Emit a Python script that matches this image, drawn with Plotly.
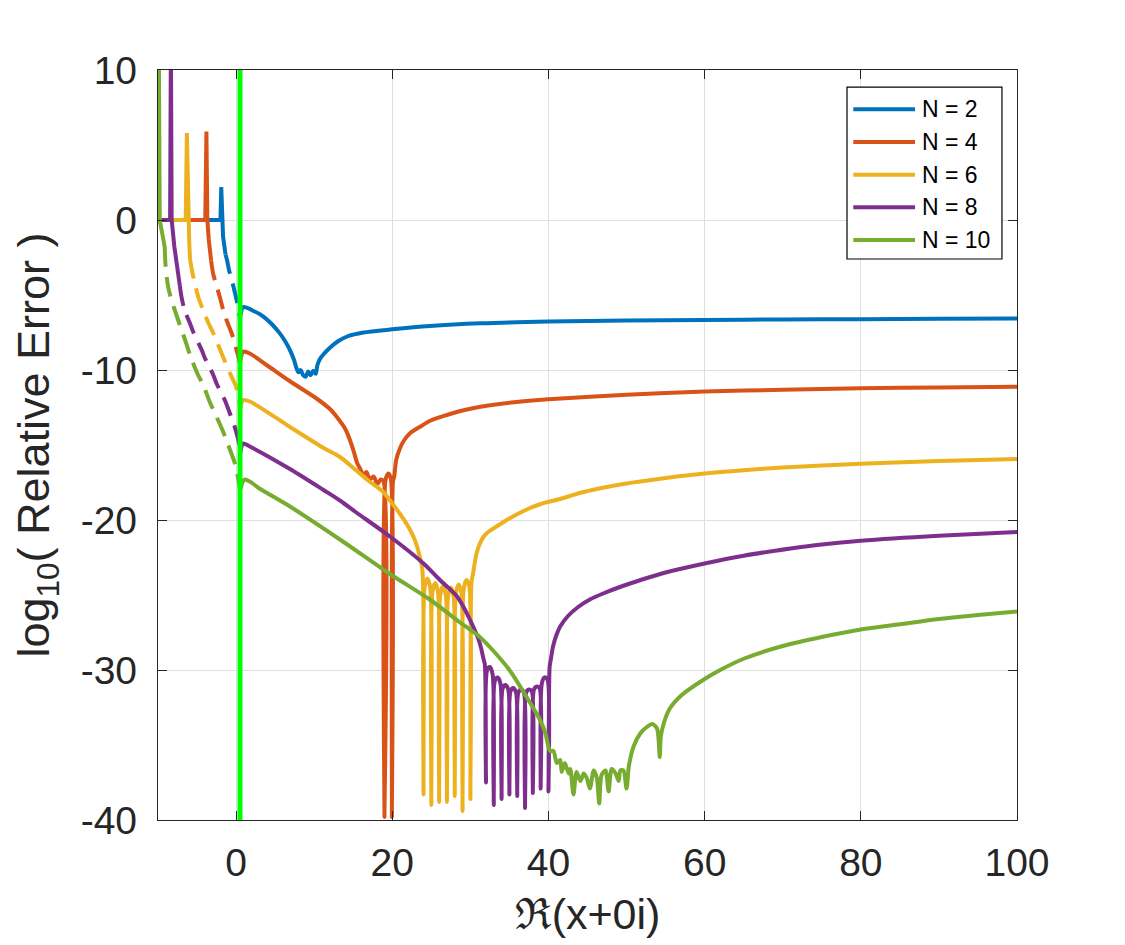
import plotly.graph_objects as go

# ---------------- data ----------------
labels = ["N = 2", "N = 4", "N = 6", "N = 8", "N = 10"]
colors = ["#0072BD", "#D95319", "#EDB120", "#7E2F8E", "#77AC30"]

# N = 2
n2_left_x = [-10, -2.0, -1.9, -1.82, -1.67, -1.35]
n2_left_y = [0, 0, 2.2, 0, -1.1, -2.3]
n2_dash_x = [-1.35, -1.15, -0.9, -0.5, -0.17, 0.05, 0.3, 0.5]
n2_dash_y = [-2.3, -2.7, -3.35, -4.1, -4.8, -5.3, -5.9, -6.6]
n2_right_x = [0.55, 0.7, 0.9, 1.5, 2.0, 3.0, 3.5, 4.5, 5.6, 6.3, 6.9, 7.4, 7.75, 8.0, 8.25,
              8.6, 8.9, 9.24, 9.55, 9.88, 10.2, 10.4, 10.7, 11.2, 12.05, 13.0, 14.3, 16.3,
              20, 24.8, 31.3, 40, 50, 60, 70, 80, 90, 100]
n2_right_y = [-6.4, -6.0, -5.8, -5.88, -6.0, -6.27, -6.44, -6.9, -7.56, -8.1, -8.67, -9.3,
              -9.9, -10.15, -10.0, -10.35, -10.45, -10.1, -10.35, -10.05, -10.25, -9.7, -9.3,
              -8.95, -8.5, -8.1, -7.75, -7.5, -7.29, -7.07, -6.89, -6.77, -6.7, -6.66, -6.63,
              -6.61, -6.58, -6.56]

# N = 4
n4_left_x = [-10, -3.95, -3.8, -3.68, -3.5, -3.2]
n4_left_y = [0, 0, 5.9, 0, -1.3, -2.7]
n4_dash_x = [-3.2, -2.95, -2.5, -2.1, -1.6, -1.23, -0.6, -0.17, 0.05, 0.3, 0.5]
n4_dash_y = [-2.7, -3.55, -4.4, -5.1, -6.1, -6.67, -7.5, -8.2, -8.67, -9.1, -9.6]
n4_right_x = [0.55, 0.7, 0.9, 1.75, 4.0, 6.9, 10.3, 12.05, 13.0, 14.0, 14.6, 15.1, 15.5,
              15.9, 16.3, 16.7, 17.1, 17.6, 18.1, 18.5, 18.85, 19.0, 19.15, 19.5, 19.8,
              19.95, 20.1, 20.25, 20.5, 21.0, 21.5, 22.3, 23.5, 25, 27, 29, 31.3, 35.6, 40,
              50, 60, 70, 80, 90, 100]
n4_right_y = [-9.4, -9.0, -8.78, -8.9, -9.7, -10.75, -11.9, -12.62, -13.2, -13.95, -14.7,
              -15.5, -16.2, -16.6, -17.0, -16.8, -17.3, -17.1, -17.6, -17.3, -17.4, -39.8,
              -17.3, -16.9, -17.2, -39.8, -17.4, -17.1, -16.0, -15.2, -14.7, -14.2, -13.8,
              -13.35, -13.0, -12.7, -12.45, -12.15, -11.95, -11.65, -11.44, -11.32, -11.22,
              -11.16, -11.11]

# N = 6
n6_left_x = [-10, -6.45, -6.3, -6.15, -6.0, -5.9]
n6_left_y = [0, 0, 5.8, 0, -1.5, -2.6]
n6_dash_x = [-5.9, -5.6, -5.2, -4.8, -4.23, -3.6, -2.7, -2.0, -1.45, -0.8, -0.17, 0.05,
             0.3, 0.5]
n6_dash_y = [-2.6, -3.5, -4.4, -5.2, -6.0, -6.8, -7.8, -8.7, -9.4, -10.2, -10.9, -11.2,
             -11.7, -12.4]
n6_right_x = [0.55, 0.7, 0.9, 1.76, 6.9, 11.2, 13.3, 15.4, 17.0, 18.8, 20.0, 21.0, 22.0,
              22.7, 23.2, 23.5, 23.85,
              24.0, 24.15, 24.5, 24.85, 25.0, 25.15, 25.5, 25.85, 26.0, 26.15, 26.5, 26.85,
              27.0, 27.15, 27.5, 27.85, 28.0, 28.15, 28.5, 28.85, 29.0, 29.15, 29.5, 29.85,
              30.0, 30.15, 30.3, 30.8, 31.2, 31.7, 32.4, 33.3, 35.0, 36.8, 38.9, 41.5, 44,
              46.5, 49.6, 55, 60, 65, 70, 75, 80, 90, 100]
n6_right_y = [-12.6, -12.2, -12.0, -12.1, -13.8, -15.2, -15.8, -16.7, -17.4, -18.1, -18.9,
              -19.6, -20.4, -21.1, -21.8, -22.4, -23.3,
              -38.3, -24.5, -23.9, -24.5, -39.0, -24.8, -24.2, -24.8, -38.8, -25.0, -24.4,
              -25.0, -38.8, -25.1, -24.5, -25.1, -38.4, -24.9, -24.3, -24.9, -39.4, -24.6,
              -24.0, -24.4, -38.6, -24.1, -23.7, -22.2, -21.6, -21.1, -20.75, -20.45, -19.9,
              -19.4, -18.95, -18.6, -18.2, -17.9, -17.6, -17.2, -16.9, -16.68, -16.5, -16.37,
              -16.25, -16.07, -15.93]

# N = 8
n8_left_x = [-10, -8.45, -8.35, -8.25, -7.9, -7.5, -7.2]
n8_left_y = [0, 0, 12, 0, -1.8, -3.3, -4.4]
n8_dash_x = [-7.2, -7.0, -6.6, -5.9, -5.5, -4.4, -4.0, -2.95, -2.5, -1.45, -1.0, -0.17,
             0.05, 0.3, 0.5]
n8_dash_y = [-4.4, -5.1, -6.0, -6.9, -7.45, -8.67, -9.2, -10.3, -10.9, -12.0, -12.6,
             -13.8, -14.2, -14.7, -15.3]
n8_right_x = [0.55, 0.7, 0.9, 1.76, 6.9, 11.2, 13.3, 15.4, 19.7, 24.0, 26.1, 28.3, 30.0,
              31.2, 31.7, 31.85,
              32.0, 32.15, 32.5, 32.85, 33.0, 33.15, 33.5, 33.85, 34.0, 34.15, 34.5, 34.85,
              35.0, 35.15, 35.5, 35.85, 36.0, 36.15, 36.5, 36.85, 37.0, 37.15, 37.5, 37.85,
              38.0, 38.15, 38.5, 38.85, 39.0, 39.15, 39.5, 39.85, 40.0,
              40.15, 40.3, 40.6, 41.0, 41.5, 42.5, 43.8, 45.3, 47, 49.5, 51.8, 55, 60, 65,
              71, 75, 80, 90, 100]
n8_right_y = [-15.5, -15.1, -14.9, -15.1, -16.6, -18.0, -18.7, -19.5, -21.1, -22.9, -24.0,
              -25.1, -26.7, -28.2, -29.3, -29.6,
              -37.5, -30.0, -29.8, -30.3, -39.0, -30.7, -30.5, -30.9, -38.6, -31.2, -31.0,
              -31.3, -38.3, -31.4, -31.2, -31.5, -38.4, -31.5, -31.3, -31.5, -39.2, -31.5,
              -31.3, -31.4, -38.2, -31.3, -31.1, -31.2, -37.9, -30.9, -30.5, -30.6, -38.1,
              -29.8, -29.3, -28.4, -27.7, -27.1, -26.4, -25.8, -25.3, -24.9, -24.4, -24.0,
              -23.5, -22.9, -22.38, -21.9, -21.63, -21.38, -21.05, -20.8]

# N = 10
n10_left_x = [-10, -9.9, -9.78, -9.45, -9.14]
n10_left_y = [0, 12, 0, -0.8, -1.8]
n10_dash_x = [-9.14, -9.05, -8.72, -8.28, -7.86, -7.2, -6.4, -5.9, -4.9, -4.2, -3.4, -2.7,
              -1.67, -1.23, -0.17, 0.05, 0.3, 0.5]
n10_dash_y = [-1.8, -2.9, -4.4, -5.33, -6.0, -7.0, -8.2, -9.0, -10.3, -11.0, -12.1, -12.9,
              -14.1, -14.7, -16.2, -16.7, -17.3, -18.0]
n10_right_x = [0.6, 0.8, 1.1, 1.8, 3.0, 6.9, 13.3, 19.7, 24.8, 28.6, 31.2, 32.9, 35.0, 37.2,
               38.9, 39.6, 40.2,
               40.64, 41.07, 41.5, 41.7, 42.1, 42.6, 42.8, 43.2, 43.6, 44.1, 44.5, 44.9,
               45.3, 45.8, 46.2, 46.5, 46.8, 47.3, 47.7, 48.1, 48.6, 49.0, 49.2, 49.6, 50.0,
               50.3, 50.9, 51.8, 52.6, 53.3, 53.9, 54.1, 54.25, 54.4, 54.8, 55.5, 57.0, 60,
               62, 65, 70, 75, 80, 85, 90, 95, 100]
n10_right_y = [-17.9, -17.5, -17.3, -17.45, -17.9, -19.1, -21.3, -23.6, -25.3, -26.8, -27.8,
               -28.7, -30.0, -31.8, -33.3, -34.2, -35.4,
               -35.4, -36.2, -36.0, -36.8, -36.2, -36.9, -36.6, -38.3, -36.8, -37.4, -36.9,
               -37.2, -37.9, -36.7, -37.2, -38.9, -37.0, -36.7, -38.1, -36.6, -36.9, -37.4,
               -36.7, -36.7, -37.9,
               -36.4, -35.1, -34.2, -33.8, -33.6, -33.9, -34.6, -35.8, -34.4, -33.5, -32.6,
               -31.7, -30.6, -30.0, -29.25, -28.4, -27.8, -27.3, -26.95, -26.6, -26.33, -26.1]

# green marker line
marker_x = [0.5, 0.5]
marker_y = [-40, 10]

x_ticks = [0, 20, 40, 60, 80, 100]
x_ticktext = ["0", "20", "40", "60", "80", "100"]
y_ticks = [-40, -30, -20, -10, 0, 10]
y_ticktext = ["-40", "-30", "-20", "-10", "0", "10"]

series = [
    (n2_left_x, n2_left_y, n2_dash_x, n2_dash_y, n2_right_x, n2_right_y),
    (n4_left_x, n4_left_y, n4_dash_x, n4_dash_y, n4_right_x, n4_right_y),
    (n6_left_x, n6_left_y, n6_dash_x, n6_dash_y, n6_right_x, n6_right_y),
    (n8_left_x, n8_left_y, n8_dash_x, n8_dash_y, n8_right_x, n8_right_y),
    (n10_left_x, n10_left_y, n10_dash_x, n10_dash_y, n10_right_x, n10_right_y),
]

FONT = "Liberation Sans, Arial, Helvetica, sans-serif"
AX = "#262626"
LW = 4

fig = go.Figure()
for i, (lx, ly, dx, dy, rx, ry) in enumerate(series):
    col = colors[i]
    fig.add_trace(go.Scatter(x=lx, y=ly, mode="lines",
                             line=dict(color=col, width=LW),
                             name=labels[i], legendgroup=labels[i], showlegend=False))
    fig.add_trace(go.Scatter(x=dx, y=dy, mode="lines",
                             line=dict(color=col, width=LW, dash="20px,10px",
                                       shape="spline", smoothing=0.8),
                             name=labels[i], legendgroup=labels[i], showlegend=False))
    fig.add_trace(go.Scatter(x=rx, y=ry, mode="lines",
                             line=dict(color=col, width=LW, shape="spline", smoothing=0.8),
                             name=labels[i], legendgroup=labels[i], showlegend=False))

fig.add_trace(go.Scatter(x=marker_x, y=marker_y, mode="lines",
                         line=dict(color="#00FF00", width=5), showlegend=False,
                         hoverinfo="skip"))

# ---- legend box drawn in paper coordinates (layout, not data) ----
shapes = [dict(type="rect", xref="paper", yref="paper", x0=0.8021, x1=0.9825,
               y0=0.748, y1=0.9773, line=dict(color="#000000", width=1.2),
               fillcolor="white", layer="above")]
annotations = []
row0, step = 0.9476, -0.04357
for i, lab in enumerate(labels):
    yy = row0 + i * step
    shapes.append(dict(type="line", xref="paper", yref="paper", x0=0.8094, x1=0.8813,
                       y0=yy, y1=yy, line=dict(color=colors[i], width=LW), layer="above"))
    annotations.append(dict(xref="paper", yref="paper", x=0.887, y=yy, text=lab,
                            showarrow=False, xanchor="left", yanchor="middle",
                            font=dict(family=FONT, size=23, color="#000000")))

fig.update_layout(
    width=1117, height=937,
    margin=dict(l=150, r=108, t=62, b=125),
    paper_bgcolor="white", plot_bgcolor="white",
    font=dict(family=FONT, color=AX),
    showlegend=False,
    shapes=shapes, annotations=annotations,
)
fig.update_xaxes(
    range=[-10, 100], tickmode="array", tickvals=x_ticks, ticktext=x_ticktext,
    ticks="inside", ticklen=9, tickcolor=AX, tickwidth=1.3,
    showline=True, linecolor=AX, linewidth=1.3, mirror="ticks",
    showgrid=True, gridcolor="#DFDFDF", gridwidth=1, zeroline=False,
    tickfont=dict(family=FONT, size=39, color=AX), ticklabelstandoff=8,
    title=dict(text="\u211c(x+0i)", font=dict(family=FONT, size=43, color=AX), standoff=15),
)
fig.update_yaxes(
    range=[-40, 10], tickmode="array", tickvals=y_ticks, ticktext=y_ticktext,
    ticks="inside", ticklen=9, tickcolor=AX, tickwidth=1.3,
    showline=True, linecolor=AX, linewidth=1.3, mirror="ticks",
    showgrid=True, gridcolor="#DFDFDF", gridwidth=1, zeroline=False,
    tickfont=dict(family=FONT, size=39, color=AX), ticklabelstandoff=12,
    title=dict(text="log<sub>10</sub>( Relative Error )",
               font=dict(family=FONT, size=45, color=AX), standoff=16),
)

fig.write_html("out.html")
